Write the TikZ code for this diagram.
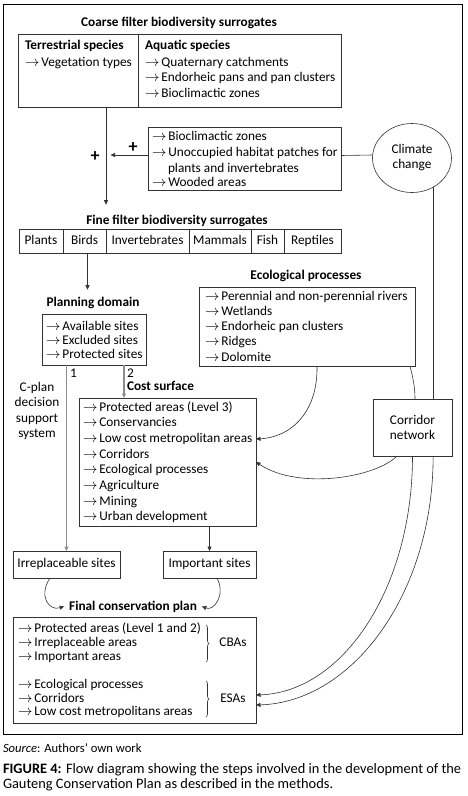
\documentclass[tikz,border=0pt]{standalone}
\usepackage{fontspec}
\setmainfont{Carlito}
\usetikzlibrary{arrows.meta,shapes.geometric,decorations.pathreplacing}
\newcommand\myarr{$\rightarrow$\hspace{2pt}}
\begin{document}
\begin{tikzpicture}[x=1pt,y=-1pt,
  every node/.style={inner sep=0pt, outer sep=0pt},
  f/.style={font=\fontsize{13.3}{15}\selectfont},
  bf/.style={font=\bfseries\fontsize{13.3}{15}\selectfont},
  box/.style={draw=black!80, line width=0.6pt, anchor=north west, fill=white},
  txt/.style={f, anchor=base west},
  ttl/.style={bf, anchor=base},
  cell/.style={box, f, minimum height=24, text height=9pt, text depth=2.5pt},
  conn/.style={draw=black!80, line width=0.6pt},
  arr/.style={conn, -{Triangle[length=4.5pt,width=4pt]}},
  garr/.style={draw=black!45, line width=1.2pt, -{Triangle[length=4.5pt,width=4pt]}, shorten >=0pt},
  brc/.style={conn, decorate, decoration={brace, amplitude=3pt}},
]
\useasboundingbox (0,0) rectangle (468,796);
\fill[white] (0,0) rectangle (468,796);
\draw[line width=1pt] (3,4) rectangle (462,734);

% coarse filter
\node[ttl] (cftitle) at (179,26) {Coarse filter biodiversity surrogates};
\node[box, minimum width=323, minimum height=73] (coarse) at (18,34) {};
\draw[conn] ([xshift=120pt]coarse.north west) -- ([xshift=120pt]coarse.south west);
\node[txt, bf] (terr) at (25,49) {Terrestrial species};
\node[txt] (veg) at (25,66.5) {\myarr Vegetation types};
\node[txt, bf] (aqua) at (145,49) {Aquatic species};
\node[txt] (aq1) at (145,66.5) {\myarr Quaternary catchments};
\node[txt] (aq2) at (145,81.5) {\myarr Endorheic pans and pan clusters};
\node[txt] (aq3) at (145,97) {\myarr Bioclimactic zones};

% additional surrogates
\node[box, minimum width=193, minimum height=63] (box2) at (148,127) {};
\node[txt] (b1) at (152,140) {\myarr Bioclimactic zones};
\node[txt] (b2) at (152,156) {\myarr Unoccupied habitat patches for};
\node[txt] (b3) at (168,172) {plants and invertebrates};
\node[txt] (b4) at (152,186) {\myarr Wooded areas};
\node[font=\bfseries\fontsize{18}{18}\selectfont] (plus1) at (95,157) {+};
\node[font=\bfseries\fontsize{18}{18}\selectfont] (plus2) at (133,148) {+};

\node[draw=black!80, line width=0.6pt, ellipse, minimum width=79, minimum height=69, f, align=center] (climate) at (412,158) {Climate\\change};

% fine filter
\node[ttl] (fftitle) at (177,224) {Fine filter biodiversity surrogates};
\node[cell, minimum width=44] (plants) at (19,229) {Plants};
\node[cell, minimum width=43] (birds) at (63,229) {Birds};
\node[cell, minimum width=83] (inv) at (106,229) {Invertebrates};
\node[cell, minimum width=62] (mam) at (189,229) {Mammals};
\node[cell, minimum width=33] (fish) at (251,229) {Fish};
\node[cell, minimum width=57] (rep) at (284,229) {Reptiles};

% planning domain
\node[ttl] (pdtitle) at (93,306) {Planning domain};
\node[box, minimum width=104, minimum height=51] (planning) at (42,314) {};
\node[txt] (p1) at (46,330) {\myarr Available sites};
\node[txt] (p2) at (46,344) {\myarr Excluded sites};
\node[txt] (p3) at (46,358) {\myarr Protected sites};

% ecological processes
\node[ttl] (ectitle) at (306,279) {Ecological processes};
\node[box, minimum width=216, minimum height=79] (eco) at (199,287) {};
\foreach \t [count=\i] in {Perennial and non-perennial rivers,Wetlands,Endorheic pan clusters,Ridges,Dolomite}
  \node[txt] (e\i) at (205,{300+15.25*(\i-1)}) {\myarr \t};

% labels
\node[txt] (lab1) at (70,377) {1};
\node[txt] (lab2) at (127,377) {2};
\node[bf, anchor=base west] (cstitle) at (127,390) {Cost surface};
\node[font=\fontsize{13.3}{15.5}\selectfont, align=center] (cplan) at (37,411) {C-plan\\decision\\support\\system};

% cost surface
\node[box, minimum width=177, minimum height=128] (cost) at (79,398) {};
\foreach \t [count=\i] in {Protected areas (Level 3),Conservancies,Low cost metropolitan areas,Corridors,Ecological processes,Agriculture,Mining,Urban development}
  \node[txt] (c\i) at (83,{411+15.7*(\i-1)}) {\myarr \t};

% corridor network
\node[box, anchor=center, f, align=center, minimum width=79, minimum height=57] (corridor) at (412.5,427.5) {Corridor\\network};

% sites
\node[box, anchor=center, f, minimum width=107, minimum height=27, text height=9pt, text depth=2.5pt] (irr) at (66.5,564.5) {Irreplaceable sites};
\node[box, anchor=center, f, minimum width=93, minimum height=27, text height=9pt, text depth=2.5pt] (important) at (209.5,564.5) {Important sites};

% final plan
\node[ttl] (fctitle) at (133,610) {Final conservation plan};
\node[box, minimum width=243, minimum height=106] (final) at (13,617) {};
\node[txt] (f1) at (18,632) {\myarr Protected areas (Level 1 and 2)};
\node[txt] (f2) at (18,646) {\myarr Irreplaceable areas};
\node[txt] (f3) at (18,660) {\myarr Important areas};
\node[txt] (f4) at (18,688) {\myarr Ecological processes};
\node[txt] (f5) at (18,702) {\myarr Corridors};
\node[txt] (f6) at (18,715) {\myarr Low cost metropolitans areas};
\draw[brc] (206,625) -- (206,662);
\draw[brc] (206,681) -- (206,717);
\node[f, anchor=base] (cba) at (233,646) {CBAs};
\node[f, anchor=base] (esa) at (233,702) {ESAs};

% caption
\node[anchor=base west, font=\fontsize{12.6}{14}\selectfont] (src) at (3,752) {\textit{Source}: Authors’ own work};
\node[anchor=base west, font=\fontsize{14.4}{15}\selectfont] (cap1) at (3,773) {\textbf{FIGURE 4:} Flow diagram showing the steps involved in the development of the};
\node[anchor=base west, font=\fontsize{14.4}{15}\selectfont] (cap2) at (3,788) {Gauteng Conservation Plan as described in the methods.};

% connectors
\coordinate (jn) at (106,155);
\draw[arr] (jn |- coarse.south) -- ([yshift=10pt]jn |- fftitle.north);
\draw[arr] ([yshift=3.5pt]box2.west) -- ([xshift=4.5pt]jn);
\draw[conn] ([yshift=3pt]box2.east) -- ([yshift=3pt]climate.west);
\draw[arr] ([xshift=3pt]birds.south) -- ([xshift=3pt,yshift=7pt]birds.south |- pdtitle.north);
\draw[garr] (irr.north |- planning.south) -- (irr.north);
\draw[garr] ([xshift=-43.5pt]cost.north |- planning.south) -- ([xshift=-43.5pt]cost.north);
\draw[arr] (important.north |- cost.south) -- (important.north);
\draw[arr] ([xshift=10pt]eco.south) .. controls +(1,44) and +(37,-2) .. ([yshift=23pt]cost.east);
\draw[conn] ([xshift=-5pt]eco.south east) .. controls +(3,12) and +(0,-12) .. ([xshift=2.5pt]corridor.north);
\draw[arr] ([xshift=-15.5pt]corridor.south) .. controls +(-22,22) and +(42,28) .. (cost.east);
\draw[arr] (corridor.south) .. controls +(0,132) and +(87,-3) .. ([yshift=-25pt]final.east);
\draw[conn] (climate.-54) -- (climate.-54 |- corridor.north);
\draw[arr] (climate.-54 |- corridor.south) .. controls +(0,137) and +(97,-3) .. ([yshift=-35pt]final.east);
\draw[arr] ([xshift=-16.5pt]irr.south) .. controls +(-12,18) and +(-15,5) .. ([xshift=-5pt]fctitle.west);
\draw[arr] ([xshift=7.5pt]important.south) .. controls +(9,17) and +(12,5) .. ([xshift=5pt]fctitle.east);
\end{tikzpicture}
\end{document}
